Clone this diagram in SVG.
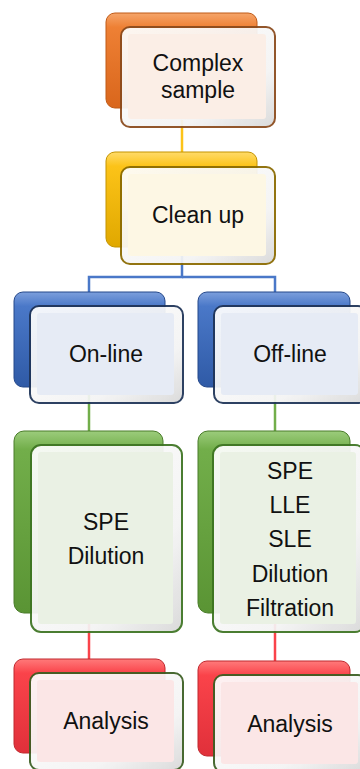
<svg xmlns="http://www.w3.org/2000/svg" width="360" height="769" viewBox="0 0 360 769">
<defs>
<linearGradient id="gOr" x1="0" y1="0" x2="0" y2="1"><stop offset="0" stop-color="#f5a56a"/><stop offset="0.15" stop-color="#ee8034"/><stop offset="1" stop-color="#d9661c"/></linearGradient>
<linearGradient id="gYe" x1="0" y1="0" x2="0" y2="1"><stop offset="0" stop-color="#ffdb6a"/><stop offset="0.15" stop-color="#fcc318"/><stop offset="1" stop-color="#e0a800"/></linearGradient>
<linearGradient id="gBl" x1="0" y1="0" x2="0" y2="1"><stop offset="0" stop-color="#7c9fdc"/><stop offset="0.15" stop-color="#4a78c8"/><stop offset="1" stop-color="#2f5aa6"/></linearGradient>
<linearGradient id="gGr" x1="0" y1="0" x2="0" y2="1"><stop offset="0" stop-color="#9ccc7c"/><stop offset="0.1" stop-color="#72ae4a"/><stop offset="1" stop-color="#5a9434"/></linearGradient>
<linearGradient id="gRe" x1="0" y1="0" x2="0" y2="1"><stop offset="0" stop-color="#ff7a7a"/><stop offset="0.15" stop-color="#fa434a"/><stop offset="1" stop-color="#e0303a"/></linearGradient>
<linearGradient id="bev" x1="0" y1="0" x2="1" y2="1"><stop offset="0" stop-color="#ffffff"/><stop offset="0.7" stop-color="#f4f4f4"/><stop offset="1" stop-color="#d8d8d8"/></linearGradient>
</defs>
<style>
.t{font-family:"Liberation Sans",Arial,sans-serif;font-size:23px;fill:#111;text-anchor:middle}
.back{stroke-width:1}
.front{fill:url(#bev);stroke-width:2;opacity:0.93}
.inner{stroke:none}
.c{fill:none;stroke-width:2.5}
</style>
<g id="connectors">
<line class="c" x1="182" y1="120" x2="182" y2="160" stroke="#fcc318"/>
<polyline class="c" points="182,255 182,277 89,277 89,300" stroke="#4a78c8"/>
<polyline class="c" points="182,277 275,277 275,300" stroke="#4a78c8"/>
<line class="c" x1="89" y1="395" x2="89" y2="440" stroke="#72ae4a"/>
<line class="c" x1="275" y1="395" x2="275" y2="440" stroke="#72ae4a"/>
<line class="c" x1="89" y1="620" x2="89" y2="668" stroke="#fa434a"/>
<line class="c" x1="275" y1="620" x2="275" y2="668" stroke="#fa434a"/>
</g>
<g id="n1">
<rect class="back" x="106" y="13" width="151" height="95" rx="9" fill="url(#gOr)" stroke="#c05a16"/>
<rect class="front" x="121" y="27" width="154" height="100" rx="9" stroke="#8a4a1c"/>
<rect class="inner" x="128" y="34" width="138" height="85" rx="3" fill="#fbeee6"/>
<text class="t" x="198" y="71">Complex</text>
<text class="t" x="198" y="98">sample</text>
</g>
<g id="n2">
<rect class="back" x="106" y="152" width="151" height="95" rx="9" fill="url(#gYe)" stroke="#c49300"/>
<rect class="front" x="121" y="167" width="154" height="97" rx="9" stroke="#8a6a00"/>
<rect class="inner" x="128" y="174" width="138" height="82" rx="3" fill="#fdf7e4"/>
<text class="t" x="198" y="223">Clean up</text>
</g>
<g id="n3">
<rect class="back" x="14" y="292" width="151" height="95" rx="9" fill="url(#gBl)" stroke="#25488a"/>
<rect class="front" x="30" y="306" width="153" height="97" rx="9" stroke="#1e3357"/>
<rect class="inner" x="37" y="313" width="137" height="82" rx="3" fill="#e6ebf5"/>
<text class="t" x="106" y="362">On-line</text>
</g>
<g id="n4">
<rect class="back" x="198" y="292" width="152" height="95" rx="9" fill="url(#gBl)" stroke="#25488a"/>
<rect class="front" x="214" y="306" width="153" height="97" rx="9" stroke="#1e3357"/>
<rect class="inner" x="221" y="313" width="137" height="82" rx="3" fill="#e6ebf5"/>
<text class="t" x="290" y="362">Off-line</text>
</g>
<g id="n5">
<rect class="back" x="14" y="431" width="149" height="182" rx="10" fill="url(#gGr)" stroke="#4a7c2a"/>
<rect class="front" x="31" y="445" width="151" height="187" rx="10" stroke="#3d7422"/>
<rect class="inner" x="38" y="452" width="135" height="172" rx="3" fill="#eaf1e4"/>
<text class="t" x="106" y="530">SPE</text>
<text class="t" x="106" y="564">Dilution</text>
</g>
<g id="n6">
<rect class="back" x="198" y="431" width="152" height="182" rx="10" fill="url(#gGr)" stroke="#4a7c2a"/>
<rect class="front" x="213" y="445" width="152" height="187" rx="10" stroke="#3d7422"/>
<rect class="inner" x="220" y="452" width="136" height="172" rx="3" fill="#eaf1e4"/>
<text class="t" x="290" y="479">SPE</text>
<text class="t" x="290" y="513">LLE</text>
<text class="t" x="290" y="547">SLE</text>
<text class="t" x="290" y="582">Dilution</text>
<text class="t" x="290" y="616">Filtration</text>
</g>
<g id="n7">
<rect class="back" x="14" y="659" width="151" height="94" rx="9" fill="url(#gRe)" stroke="#c0282e"/>
<rect class="front" x="30" y="673" width="153" height="97" rx="9" stroke="#3b5e22"/>
<rect class="inner" x="37" y="680" width="137" height="82" rx="3" fill="#fbe6e6"/>
<text class="t" x="106" y="729">Analysis</text>
</g>
<g id="n8">
<rect class="back" x="198" y="661" width="152" height="95" rx="9" fill="url(#gRe)" stroke="#c0282e"/>
<rect class="front" x="214" y="675" width="153" height="97" rx="9" stroke="#3b5e22"/>
<rect class="inner" x="221" y="682" width="137" height="82" rx="3" fill="#fbe6e6"/>
<text class="t" x="290" y="732">Analysis</text>
</g>
</svg>
